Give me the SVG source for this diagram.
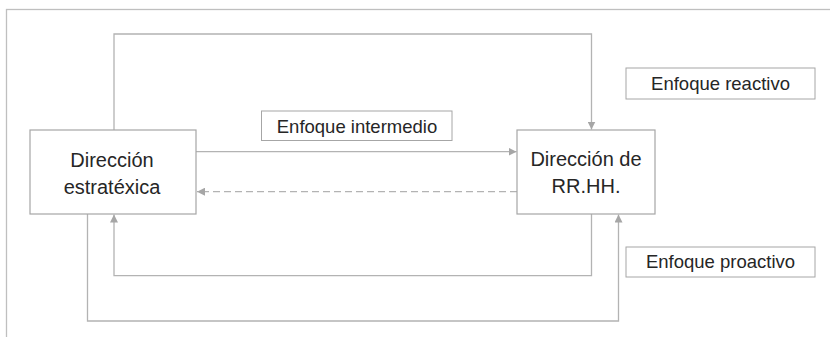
<svg xmlns="http://www.w3.org/2000/svg" width="830" height="337" viewBox="0 0 830 337">
<style>
.frame{fill:none;stroke:#bfbfbf;stroke-width:1.3}
.box{fill:#ffffff;stroke:#a6a6a6;stroke-width:1.2}
.lbl{fill:#ffffff;stroke:#a6a6a6;stroke-width:1}
.conn{fill:none;stroke:#b3b3b3;stroke-width:1.3}
.dash{stroke-dasharray:7 4}
text{font-family:"Liberation Sans",Arial,sans-serif;fill:#262626;text-anchor:middle}
.t1{font-size:20px}
.t2{font-size:18.5px}
</style>
<defs>
<marker id="ah" viewBox="0 0 10 10" refX="10" refY="5" markerWidth="8" markerHeight="8" markerUnits="userSpaceOnUse" orient="auto">
<path d="M0,0 L10,5 L0,10 z" fill="#a6a6a6"/>
</marker>
</defs>
<rect class="frame" x="6.5" y="9.5" width="840" height="340"/>
<g id="connectors">
<polyline class="conn" points="114,130 114,34 591.5,34 591.5,129.5" marker-end="url(#ah)"/>
<line class="conn" x1="196" y1="151.7" x2="516.5" y2="151.7" marker-end="url(#ah)"/>
<line class="conn dash" x1="517" y1="191.7" x2="197" y2="191.7" marker-end="url(#ah)"/>
<polyline class="conn" points="591.5,214 591.5,275.7 114,275.7 114,214.5" marker-end="url(#ah)"/>
<polyline class="conn" points="87.5,214 87.5,321 618.5,321 618.5,214.5" marker-end="url(#ah)"/>
</g>
<g id="direccion-estratexica">
<rect class="box" x="30" y="130" width="166" height="84"/>
<text class="t1" x="112" y="167">Dirección</text>
<text class="t1" x="112" y="194">estratéxica</text>
</g>
<g id="direccion-rrhh">
<rect class="box" x="517" y="130" width="138" height="84"/>
<text class="t1" x="586" y="166">Dirección de</text>
<text class="t1" x="586" y="193">RR.HH.</text>
</g>
<g id="enfoque-intermedio">
<rect class="lbl" x="261.5" y="111" width="190.5" height="29.5"/>
<text class="t2" x="357" y="133">Enfoque intermedio</text>
</g>
<g id="enfoque-reactivo">
<rect class="lbl" x="626" y="68" width="189" height="31"/>
<text class="t2" x="720.5" y="89.5">Enfoque reactivo</text>
</g>
<g id="enfoque-proactivo">
<rect class="lbl" x="626" y="247" width="189" height="30"/>
<text class="t2" x="720.5" y="268">Enfoque proactivo</text>
</g>
</svg>
